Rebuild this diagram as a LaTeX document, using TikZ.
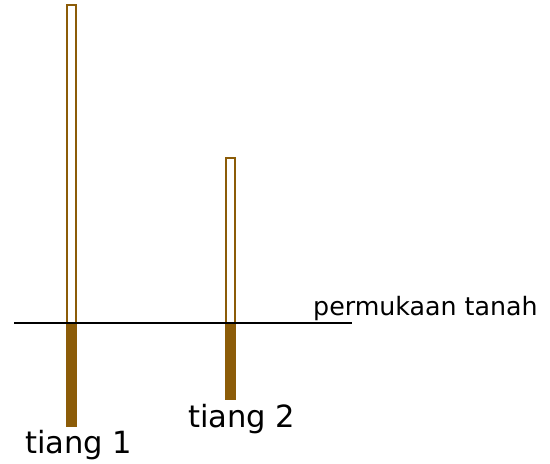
\documentclass[tikz,border=0pt]{standalone}
\usepackage{fontspec}
\setmainfont{DejaVu Sans}
\definecolor{pole}{RGB}{140,92,8}
\begin{document}
\begin{tikzpicture}[x=1pt,y=-1pt,
  upper/.style={draw=pole,line width=2pt,fill=white},
  lower/.style={draw=pole,line width=1pt,fill=pole},
  lbl/.style={inner sep=0pt,anchor=base west,font=\fontsize{30.6}{36}\selectfont},
  small/.style={inner sep=0pt,anchor=base west,font=\fontsize{25.3}{30}\selectfont}]
\useasboundingbox (0,0) rectangle (550,464);
% pole 1
\draw[upper] (67,5) rectangle (76,323);
\draw[lower] (66.5,323) rectangle (76.5,426);
% pole 2
\draw[upper] (226,158) rectangle (235,323);
\draw[lower] (225.5,323) rectangle (235.5,399);
% ground
\draw[line width=2.2pt,black] (14,323) -- (352,323);
% labels
\node[small] (ground) at (313,315) {permukaan tanah};
\node[lbl] (t1) at (25,453) {tiang 1};
\node[lbl] (t2) at (188,427) {tiang 2};
\end{tikzpicture}
\end{document}
